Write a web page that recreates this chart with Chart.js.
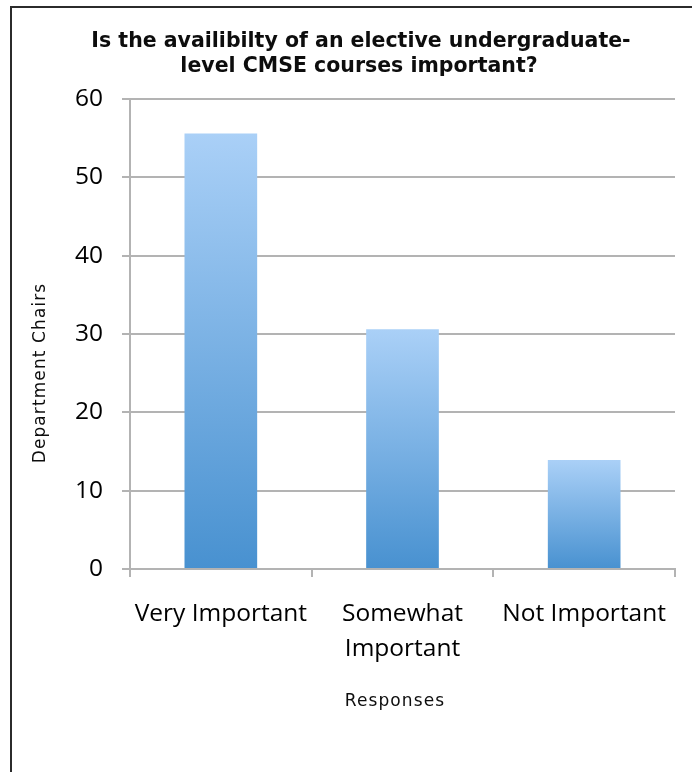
<!DOCTYPE html>
<html>
<head>
<meta charset="utf-8">
<script src="https://cdn.jsdelivr.net/npm/chart.js@4/dist/chart.umd.min.js"></script>
<style>
  html, body { margin: 0; padding: 0; background: #ffffff; }
  #wrap { position: relative; width: 694px; height: 772px; overflow: hidden; }
  #frame {
    position: absolute; left: 10px; top: 6px; width: 682px; height: 766px;
    border-left: 2px solid #2b2b2b; border-top: 2px solid #2b2b2b;
    box-sizing: border-box; pointer-events: none;
  }
  canvas { position: absolute; left: 0; top: 0; }
</style>
</head>
<body>
<div id="wrap">
  <canvas id="chart" width="694" height="772"></canvas>
  <div id="frame"></div>
</div>
<script>
// Survey responses: share of department chairs per answer
const categories = ['Very Important', ['Somewhat', 'Important'], 'Not Important'];
const chairs = [55.6, 30.6, 13.9];
const yTickValues = [0, 10, 20, 30, 40, 50, 60];

const titleLines = ['Is the availibilty of an elective undergraduate-', 'level CMSE courses important?'];
const yTitle = 'Department Chairs';
const xTitle = 'Responses';

const gridGray = '#b3b3b3';
const barTop = '#aad0f7';
const barBottom = '#4891d0';
const tickFont = { family: '"Open Sans"', size: 24.5, weight: '500' };

// Vertical gradient per bar, light at the top and deeper blue at the base
function barFill(ctx) {
  const chart = ctx.chart;
  if (!chart.chartArea || ctx.raw === undefined) return barBottom;
  const y = chart.scales.y;
  const top = y.getPixelForValue(ctx.raw);
  const base = y.getPixelForValue(0);
  const g = chart.ctx.createLinearGradient(0, top, 0, base);
  g.addColorStop(0, barTop);
  g.addColorStop(1, barBottom);
  return g;
}

// Title and axis captions
const captions = {
  id: 'captions',
  afterDraw(chart) {
    const c = chart.ctx;
    c.save();
    c.fillStyle = '#0d0d0d';
    c.textAlign = 'center';
    c.textBaseline = 'alphabetic';
    c.font = 'bold 20.5px "DejaVu Sans"';
    c.fillText(titleLines[0], 361, 47);
    c.fillText(titleLines[1], 359, 72);

    c.font = '17px "DejaVu Sans"';
    if ('letterSpacing' in c) c.letterSpacing = '1.1px';
    c.textBaseline = 'middle';
    c.fillText(xTitle, 395, 702);

    c.translate(41, 373);
    c.rotate(-Math.PI / 2);
    c.fillText(yTitle, 0, 0);
    c.restore();
  }
};

new Chart(document.getElementById('chart'), {
  type: 'bar',
  data: {
    labels: categories,
    datasets: [{
      data: chairs,
      backgroundColor: barFill,
      borderWidth: 0,
      categoryPercentage: 1.0,
      barPercentage: 0.4
    }]
  },
  options: {
    responsive: false,
    animation: false,
    devicePixelRatio: 1,
    layout: { padding: { left: 70, right: 19, top: 99, bottom: 93 } },
    plugins: {
      legend: { display: false },
      title: { display: false },
      tooltip: { enabled: false }
    },
    scales: {
      x: {
        offset: true,
        grid: {
          offset: true,
          drawOnChartArea: false,
          drawTicks: true,
          tickLength: 8,
          color: gridGray,
          lineWidth: 2
        },
        border: { display: true, color: gridGray, width: 2 },
        ticks: {
          color: '#000000',
          font: { ...tickFont, lineHeight: 1.42 },
          padding: 20,
          maxRotation: 0,
          autoSkip: false
        },
        afterFit(scale) { scale.height = 110; }
      },
      y: {
        min: 0,
        max: 60,
        afterBuildTicks(scale) { scale.ticks = yTickValues.map(v => ({ value: v })); },
        grid: {
          color: gridGray,
          lineWidth: 2,
          drawTicks: true,
          tickLength: 8
        },
        border: { display: true, color: gridGray, width: 2 },
        ticks: {
          color: '#000000',
          font: tickFont,
          padding: 19
        },
        afterFit(scale) { scale.width = 60; }
      }
    }
  },
  plugins: [captions]
});
</script>
</body>
</html>
